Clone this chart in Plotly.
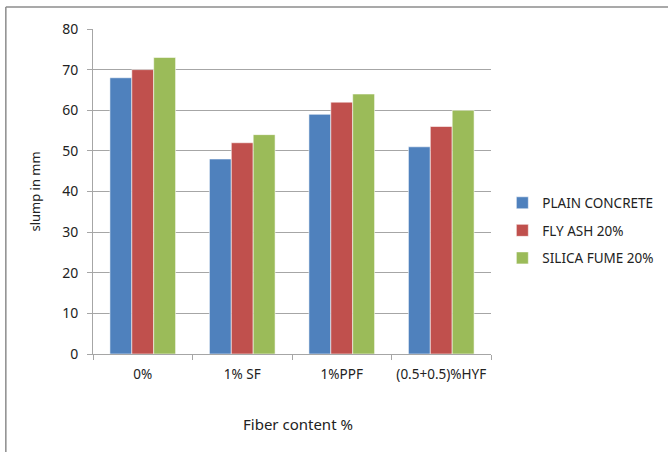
import plotly.graph_objects as go

categories = ["0%", "1% SF", "1%PPF", "(0.5+0.5)%HYF"]
plain_concrete = [68, 48, 59, 51]
fly_ash_20 = [70, 52, 62, 56]
silica_fume_20 = [73, 54, 64, 60]
series_names = ["PLAIN CONCRETE", "FLY ASH 20%", "SILICA FUME 20%"]
series_colors = ["#4F81BD", "#C0504D", "#9BBB59"]
y_ticks = [0, 10, 20, 30, 40, 50, 60, 70, 80]

FONT = "Noto Sans"
GRID = "#A6A6A6"

fig = go.Figure()
for i, (name, vals, col) in enumerate(zip(series_names,
                                          [plain_concrete, fly_ash_20, silica_fume_20],
                                          series_colors)):
    fig.add_trace(go.Bar(
        x=categories, y=vals, name=name, legendgroup=f"g{i}",
        marker=dict(color=col, line=dict(color="rgba(255,255,255,0.55)", width=1)),
    ))

fig.update_layout(
    width=668, height=452,
    margin=dict(l=93, r=177, t=29, b=98, autoexpand=False),
    paper_bgcolor="white", plot_bgcolor="white",
    barmode="group", bargap=0.34, bargroupgap=0,
    font=dict(family=FONT, size=13, color="#222222"),
    showlegend=True,
    legend=dict(xref="container", yref="container", x=0.752, y=0.49,
                xanchor="left", yanchor="middle",
                font=dict(family=FONT, size=13.5, color="#222222"),
                tracegroupgap=7, itemwidth=30, bgcolor="rgba(0,0,0,0)"),
    xaxis=dict(
        type="category", showgrid=False, showline=True, linecolor=GRID, linewidth=1,
        ticks="outside", tickson="boundaries", ticklen=5, tickcolor=GRID,
        ticklabelstandoff=8, tickfont=dict(size=13.5),
    ),
    yaxis=dict(
        range=[0, 80], tickvals=y_ticks, showgrid=True, gridcolor=GRID, gridwidth=1,
        showline=True, linecolor=GRID, linewidth=1, zeroline=False,
        ticks="outside", ticklen=5, tickcolor=GRID, ticklabelstandoff=6,
        tickfont=dict(size=14),
    ),
    annotations=[
        dict(text="Fiber content %", xref="paper", yref="paper", x=0.515, y=-0.215,
             xanchor="center", yanchor="middle", showarrow=False,
             font=dict(family=FONT, size=15)),
        dict(text="slump in mm", xref="paper", yref="paper", x=-0.148, y=0.50,
             xanchor="center", yanchor="middle", showarrow=False, textangle=-90,
             font=dict(family=FONT, size=13)),
    ],
    shapes=[
        dict(type="line", xref="paper", yref="paper", x0=-0.219, x1=1.5, y0=1.068, y1=1.068,
             line=dict(color="#8C8C8C", width=1.5)),
        dict(type="line", xref="paper", yref="paper", x0=-0.219, x1=-0.219, y0=1.068, y1=-0.4,
             line=dict(color="#8C8C8C", width=1.5)),
    ],
)

fig.write_html("out.html")
